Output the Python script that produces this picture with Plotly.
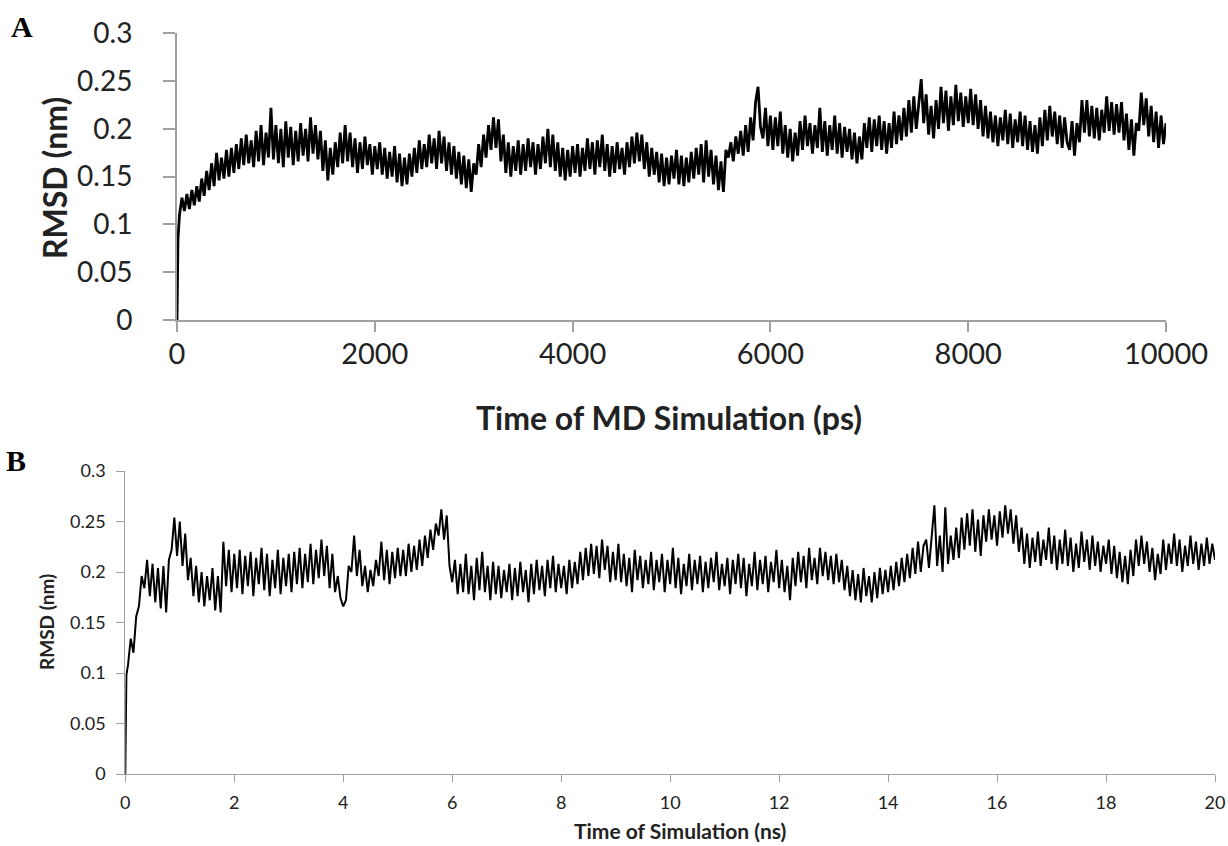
import plotly.graph_objects as go

W, H = 1228, 846

# ---------------- Panel A data (time in ps, RMSD in nm) ----------------
time_a = [0, 10] + [25 * i for i in range(1, 401)]
rmsd_a = [0.000, 0.085,
    0.110, 0.128, 0.114, 0.132, 0.116, 0.136, 0.120, 0.140, 0.124, 0.148, 0.130, 0.156, 0.136, 0.164, 0.140, 0.175, 0.146, 0.170, 0.148, 0.178,
    0.150, 0.180, 0.154, 0.184, 0.158, 0.190, 0.162, 0.194, 0.164, 0.188, 0.160, 0.198, 0.166, 0.204, 0.162, 0.196, 0.170, 0.222, 0.168, 0.204,
    0.164, 0.200, 0.160, 0.208, 0.170, 0.202, 0.162, 0.198, 0.166, 0.206, 0.172, 0.200, 0.166, 0.212, 0.174, 0.204, 0.168, 0.198, 0.156, 0.188,
    0.146, 0.180, 0.152, 0.186, 0.160, 0.196, 0.164, 0.204, 0.166, 0.196, 0.160, 0.190, 0.154, 0.186, 0.158, 0.192, 0.162, 0.184, 0.152, 0.182,
    0.158, 0.186, 0.152, 0.180, 0.148, 0.176, 0.150, 0.182, 0.144, 0.174, 0.140, 0.170, 0.142, 0.174, 0.150, 0.180, 0.154, 0.188, 0.158, 0.184,
    0.160, 0.194, 0.164, 0.190, 0.158, 0.198, 0.164, 0.192, 0.156, 0.186, 0.152, 0.182, 0.148, 0.176, 0.142, 0.172, 0.138, 0.168, 0.134, 0.164,
    0.152, 0.184, 0.160, 0.194, 0.170, 0.204, 0.178, 0.212, 0.180, 0.210, 0.166, 0.194, 0.154, 0.186, 0.150, 0.182, 0.156, 0.188, 0.152, 0.184,
    0.156, 0.190, 0.160, 0.186, 0.152, 0.184, 0.158, 0.192, 0.164, 0.200, 0.160, 0.194, 0.156, 0.186, 0.150, 0.180, 0.146, 0.178, 0.150, 0.182,
    0.154, 0.184, 0.150, 0.180, 0.156, 0.190, 0.158, 0.186, 0.152, 0.188, 0.160, 0.194, 0.156, 0.184, 0.150, 0.182, 0.154, 0.186, 0.158, 0.180,
    0.152, 0.186, 0.160, 0.192, 0.164, 0.196, 0.166, 0.194, 0.158, 0.186, 0.150, 0.180, 0.152, 0.176, 0.144, 0.174, 0.140, 0.170, 0.142, 0.172,
    0.148, 0.178, 0.142, 0.172, 0.140, 0.170, 0.144, 0.176, 0.148, 0.180, 0.152, 0.184, 0.144, 0.188, 0.150, 0.178, 0.142, 0.172, 0.136, 0.166,
    0.134, 0.178, 0.170, 0.186, 0.166, 0.192, 0.174, 0.198, 0.172, 0.204, 0.176, 0.212, 0.188, 0.228, 0.244, 0.202, 0.190, 0.222, 0.182, 0.214,
    0.178, 0.212, 0.182, 0.218, 0.174, 0.204, 0.170, 0.200, 0.166, 0.196, 0.172, 0.208, 0.178, 0.214, 0.182, 0.206, 0.174, 0.204, 0.180, 0.222,
    0.176, 0.208, 0.172, 0.204, 0.178, 0.214, 0.174, 0.206, 0.170, 0.202, 0.176, 0.200, 0.168, 0.196, 0.164, 0.192, 0.168, 0.206, 0.180, 0.212,
    0.176, 0.210, 0.182, 0.214, 0.178, 0.208, 0.174, 0.206, 0.180, 0.218, 0.184, 0.214, 0.188, 0.222, 0.192, 0.230, 0.196, 0.234, 0.200, 0.226,
    0.252, 0.206, 0.236, 0.194, 0.224, 0.190, 0.230, 0.200, 0.244, 0.206, 0.240, 0.198, 0.234, 0.204, 0.246, 0.208, 0.238, 0.202, 0.234, 0.206,
    0.242, 0.204, 0.236, 0.200, 0.230, 0.192, 0.224, 0.190, 0.218, 0.186, 0.214, 0.182, 0.212, 0.188, 0.220, 0.184, 0.216, 0.180, 0.210, 0.186,
    0.218, 0.182, 0.214, 0.178, 0.208, 0.176, 0.204, 0.174, 0.212, 0.182, 0.220, 0.188, 0.224, 0.192, 0.218, 0.184, 0.214, 0.180, 0.212, 0.186,
    0.178, 0.208, 0.172, 0.206, 0.186, 0.230, 0.196, 0.230, 0.192, 0.224, 0.190, 0.222, 0.188, 0.220, 0.196, 0.234, 0.198, 0.228, 0.194, 0.226,
    0.196, 0.228, 0.188, 0.216, 0.178, 0.210, 0.172, 0.206, 0.198, 0.238, 0.204, 0.232, 0.192, 0.224, 0.186, 0.218, 0.180, 0.214, 0.184, 0.206]

# ---------------- Panel B data (time in ns, RMSD in nm) ----------------
time_b = [0, 0.02] + [round(0.05 * i, 2) for i in range(1, 401)]
rmsd_b = [0.000, 0.098,
    0.108, 0.134, 0.120, 0.156, 0.166, 0.196, 0.184, 0.212, 0.176, 0.208, 0.170, 0.204, 0.164, 0.206, 0.160, 0.212, 0.222, 0.254, 0.216, 0.250,
    0.206, 0.238, 0.192, 0.214, 0.176, 0.206, 0.170, 0.200, 0.166, 0.196, 0.172, 0.204, 0.162, 0.196, 0.160, 0.230, 0.186, 0.222, 0.180, 0.218,
    0.184, 0.222, 0.178, 0.216, 0.186, 0.220, 0.176, 0.214, 0.188, 0.224, 0.182, 0.218, 0.176, 0.212, 0.184, 0.222, 0.178, 0.214, 0.186, 0.218,
    0.180, 0.220, 0.188, 0.224, 0.184, 0.218, 0.190, 0.228, 0.188, 0.222, 0.194, 0.232, 0.196, 0.226, 0.184, 0.218, 0.180, 0.196, 0.174, 0.166,
    0.172, 0.206, 0.200, 0.236, 0.196, 0.222, 0.186, 0.206, 0.180, 0.202, 0.186, 0.212, 0.196, 0.230, 0.192, 0.222, 0.188, 0.220, 0.194, 0.224,
    0.196, 0.222, 0.196, 0.228, 0.200, 0.226, 0.202, 0.232, 0.206, 0.236, 0.214, 0.242, 0.222, 0.248, 0.236, 0.262, 0.232, 0.256, 0.206, 0.190,
    0.212, 0.178, 0.208, 0.180, 0.218, 0.178, 0.206, 0.172, 0.214, 0.182, 0.220, 0.180, 0.206, 0.172, 0.210, 0.178, 0.206, 0.174, 0.202, 0.180,
    0.208, 0.172, 0.204, 0.176, 0.210, 0.180, 0.202, 0.170, 0.208, 0.178, 0.212, 0.182, 0.206, 0.176, 0.212, 0.184, 0.216, 0.180, 0.208, 0.184,
    0.206, 0.178, 0.212, 0.184, 0.210, 0.188, 0.220, 0.192, 0.224, 0.196, 0.228, 0.198, 0.226, 0.194, 0.232, 0.202, 0.226, 0.190, 0.220, 0.192,
    0.228, 0.190, 0.218, 0.186, 0.214, 0.180, 0.222, 0.192, 0.216, 0.184, 0.212, 0.188, 0.220, 0.182, 0.212, 0.190, 0.218, 0.180, 0.212, 0.188,
    0.224, 0.184, 0.214, 0.178, 0.208, 0.186, 0.218, 0.182, 0.212, 0.188, 0.216, 0.180, 0.210, 0.184, 0.214, 0.190, 0.220, 0.182, 0.208, 0.186,
    0.214, 0.178, 0.212, 0.188, 0.218, 0.184, 0.214, 0.176, 0.208, 0.186, 0.220, 0.182, 0.212, 0.188, 0.216, 0.180, 0.210, 0.190, 0.222, 0.184,
    0.212, 0.180, 0.206, 0.172, 0.214, 0.186, 0.220, 0.190, 0.216, 0.184, 0.224, 0.192, 0.214, 0.188, 0.224, 0.196, 0.220, 0.192, 0.216, 0.188,
    0.218, 0.190, 0.212, 0.182, 0.206, 0.176, 0.202, 0.172, 0.198, 0.170, 0.204, 0.176, 0.196, 0.170, 0.200, 0.174, 0.204, 0.178, 0.202, 0.180,
    0.206, 0.182, 0.210, 0.186, 0.214, 0.190, 0.218, 0.194, 0.224, 0.198, 0.230, 0.200, 0.226, 0.232, 0.204, 0.234, 0.266, 0.206, 0.236, 0.200,
    0.264, 0.208, 0.236, 0.212, 0.244, 0.214, 0.254, 0.222, 0.258, 0.226, 0.262, 0.220, 0.252, 0.216, 0.256, 0.230, 0.262, 0.232, 0.256, 0.226,
    0.260, 0.234, 0.266, 0.238, 0.262, 0.228, 0.256, 0.220, 0.244, 0.208, 0.238, 0.204, 0.234, 0.210, 0.240, 0.206, 0.232, 0.212, 0.244, 0.208,
    0.236, 0.202, 0.232, 0.208, 0.242, 0.206, 0.234, 0.200, 0.228, 0.204, 0.240, 0.210, 0.232, 0.202, 0.236, 0.206, 0.230, 0.200, 0.226, 0.208,
    0.232, 0.198, 0.226, 0.194, 0.220, 0.190, 0.216, 0.188, 0.222, 0.196, 0.232, 0.206, 0.236, 0.208, 0.230, 0.200, 0.224, 0.192, 0.218, 0.198,
    0.232, 0.202, 0.228, 0.208, 0.238, 0.206, 0.232, 0.200, 0.226, 0.206, 0.236, 0.208, 0.230, 0.202, 0.228, 0.206, 0.234, 0.208, 0.228, 0.212]

ticks_a_x = [0, 2000, 4000, 6000, 8000, 10000]
ticks_a_x_text = ["0", "2000", "4000", "6000", "8000", "10000"]
ticks_b_x = [0, 2, 4, 6, 8, 10, 12, 14, 16, 18, 20]
ticks_y = [0, 0.05, 0.1, 0.15, 0.2, 0.25, 0.3]
ticks_y_text = ["0", "0.05", "0.1", "0.15", "0.2", "0.25", "0.3"]

FONT = "Lato"
AXC = "#a0a0a0"
TXT = "#222222"


def px(x):
    return x / W


def py(y):
    return 1 - y / H


fig = go.Figure()
fig.add_trace(go.Scatter(x=time_a, y=rmsd_a, mode="lines",
                         line=dict(color="black", width=2.8),
                         xaxis="x", yaxis="y", showlegend=False))
fig.add_trace(go.Scatter(x=time_b, y=rmsd_b, mode="lines",
                         line=dict(color="black", width=2.0),
                         xaxis="x2", yaxis="y2", showlegend=False))

common = dict(showline=True, showgrid=False, zeroline=False, automargin=False,
              ticks="outside", tickcolor=AXC, linecolor=AXC)

fig.update_layout(
    width=W, height=H,
    margin=dict(l=0, r=0, t=0, b=0, pad=0),
    paper_bgcolor="white", plot_bgcolor="white",
    xaxis=dict(domain=[px(177), px(1166)], range=[0, 10000], anchor="y",
               tickvals=ticks_a_x, ticktext=ticks_a_x_text, ticklen=10,
               tickwidth=2, linewidth=2, ticklabelstandoff=-3,
               tickfont=dict(family=FONT, size=29, color=TXT), **common),
    yaxis=dict(domain=[py(320), py(33.3)], range=[0, 0.3], anchor="x",
               tickvals=ticks_y, ticktext=ticks_y_text, ticklen=12,
               tickwidth=2, linewidth=2, ticklabelstandoff=25,
               tickfont=dict(family=FONT, size=28, color=TXT), **common),
    xaxis2=dict(domain=[px(125.3), px(1215)], range=[0, 20], anchor="y2",
                tickvals=ticks_b_x, ticklen=7, tickwidth=1, linewidth=1,
                ticklabelstandoff=5,
                tickfont=dict(family=FONT, size=18, color=TXT), **common),
    yaxis2=dict(domain=[py(774), py(471)], range=[0, 0.3], anchor="x2",
                tickvals=ticks_y, ticktext=ticks_y_text, ticklen=8,
                tickwidth=1, linewidth=1, ticklabelstandoff=7,
                tickfont=dict(family=FONT, size=18, color=TXT), **common),
)

ann = [
    dict(text="<b>A</b>", x=px(22), y=py(27),
         font=dict(family="Liberation Serif", size=30, color="black")),
    dict(text="<b>B</b>", x=px(16), y=py(461),
         font=dict(family="Liberation Serif", size=30, color="black")),
    dict(text="<b>Time of MD Simulation (ps)</b>", x=px(669), y=py(418),
         font=dict(family=FONT, size=32, color=TXT)),
    dict(text="<b>RMSD (nm)</b>", x=px(55), y=py(178), textangle=-90,
         font=dict(family=FONT, size=32, color=TXT)),
    dict(text="<b>Time of Simulation (ns)</b>", x=px(680), y=py(830),
         font=dict(family=FONT, size=21, color=TXT)),
    dict(text="<b>RMSD (nm)</b>", x=px(46), y=py(622), textangle=-90,
         font=dict(family=FONT, size=19, color=TXT)),
]
for a in ann:
    a.update(xref="paper", yref="paper", xanchor="center", yanchor="middle",
             showarrow=False)
fig.update_layout(annotations=ann)

fig.write_html("out.html")
